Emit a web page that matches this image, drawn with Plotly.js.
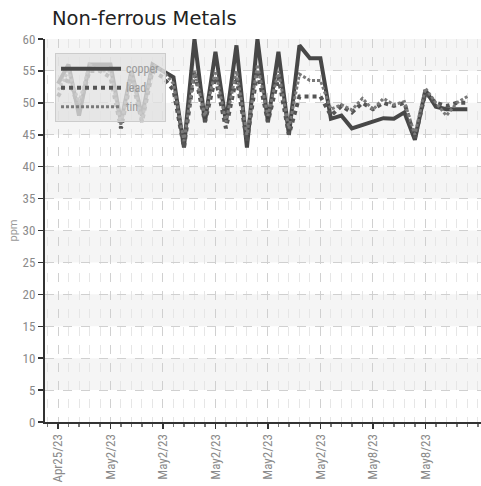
<!DOCTYPE html>
<html>
<head>
<meta charset="utf-8">
<script src="https://cdn.plot.ly/plotly-3.0.1.min.js"></script>
<style>html,body{margin:0;padding:0;background:#fff;}#chart{width:481px;height:486px;}</style>
</head>
<body>
<div id="chart"></div>
<script>
const xIndex = Array.from({length: 40}, (_, i) => i);
const tickPositions = [0, 5, 10, 15, 20, 25, 30, 35];
const tickLabels = ["Apr25/23", "May2/23", "May2/23", "May2/23", "May2/23", "May2/23", "May8/23", "May8/23"];
const copper = [53, 56, 48, 56, 56, 56, 47, 55, 48, 56, 55, 54, 43, 60, 47, 58, 47, 59, 43, 60,
                47, 58, 45, 59, 57, 57, 47.5, 48, 46, 46.5, 47, 47.6, 47.5, 48.5, 44.2, 52, 49.4, 49, 49, 49];
const lead = [51, 54, 49, 55, 55, 54, 46, 54, 47, 55, 54, 52, 43, 55, 47, 54, 46, 54, 44, 55,
              47, 54, 45, 51, 51, 51, 48, 49.5, 48.5, 50, 49, 50, 49.5, 50, 44.5, 51.5, 50, 49.5, 50, 50];
const tin = [52, 55, 50, 56, 55, 55, 46.5, 55, 47, 56, 55, 53, 44, 55, 48, 55, 47, 55, 45, 56,
             48, 55, 46, 54.5, 53.5, 53.5, 49, 49.7, 48.9, 50.7, 48.9, 50.7, 49.7, 50.2, 45, 52.3, 50, 48, 50, 51];
const yTicks = [0, 5, 10, 15, 20, 25, 30, 35, 40, 45, 50, 55, 60];

const bands = [];
for (let v = 5; v < 60; v += 10) {
  bands.push({type: 'rect', xref: 'paper', yref: 'y', x0: 0, x1: 1, y0: v, y1: v + 5,
    fillcolor: '#f5f5f5', line: {width: 0}, layer: 'below'});
}

const traces = [
  {x: xIndex, y: copper, name: 'copper', mode: 'lines', line: {color: '#474747', width: 4}},
  {x: xIndex, y: lead, name: 'lead', mode: 'lines', line: {color: '#555555', width: 4, dash: 'dot'}},
  {x: xIndex, y: tin, name: 'tin', mode: 'lines', line: {color: '#7a7a7a', width: 3, dash: '3px,2px'}}
];

const tickFont = {family: '"Liberation Sans Narrow", "Roboto Condensed", Roboto, sans-serif', size: 13, color: '#8a8a8a'};

const layout = {
  width: 481, height: 486,
  margin: {l: 45, r: 0, t: 39, b: 64},
  paper_bgcolor: '#ffffff', plot_bgcolor: '#ffffff',
  title: {text: 'Non-ferrous Metals', x: 0.108, xanchor: 'left', y: 0.963, yanchor: 'middle',
          font: {family: '"DejaVu Sans", Verdana, sans-serif', size: 19.5, color: '#222'}},
  showlegend: true,
  legend: {x: 0.023, y: 0.963, xanchor: 'left', yanchor: 'top',
           bgcolor: 'rgba(226,226,226,0.78)', bordercolor: '#cccccc', borderwidth: 1,
           font: {family: '"Liberation Sans Narrow", "Roboto Condensed", Roboto, sans-serif', size: 12, color: '#999'},
           tracegroupgap: 0, itemwidth: 60},
  xaxis: {
    range: [-1.24, 40.3], tickmode: 'array', tickvals: tickPositions, ticktext: tickLabels,
    tickangle: -90, tickfont: tickFont, ticks: 'outside', ticklen: 5, tickcolor: '#333', tickwidth: 1.5,
    showline: true, linecolor: '#333', linewidth: 2, zeroline: false,
    showgrid: true, gridcolor: '#d0d0d0', griddash: 'dash', gridwidth: 1,
    minor: {tick0: 0, dtick: 1, ticks: 'outside', ticklen: 3, tickcolor: '#777',
            showgrid: true, gridcolor: '#e6e6e6', griddash: 'dash', gridwidth: 1}
  },
  yaxis: {
    range: [0, 60], tickmode: 'array', tickvals: yTicks, tickfont: tickFont,
    ticks: 'outside', ticklen: 5, tickcolor: '#333', tickwidth: 1.5,
    showline: true, linecolor: '#333', linewidth: 2, zeroline: false,
    showgrid: true, gridcolor: '#d0d0d0', griddash: 'dash', gridwidth: 1,
    title: {text: 'ppm', standoff: 3, font: {family: '"Liberation Sans Narrow", Roboto, sans-serif', size: 11, color: '#999'}}
  },
  shapes: bands
};

Plotly.newPlot('chart', traces, layout, {displayModeBar: false, staticPlot: true});
</script>
</body>
</html>
